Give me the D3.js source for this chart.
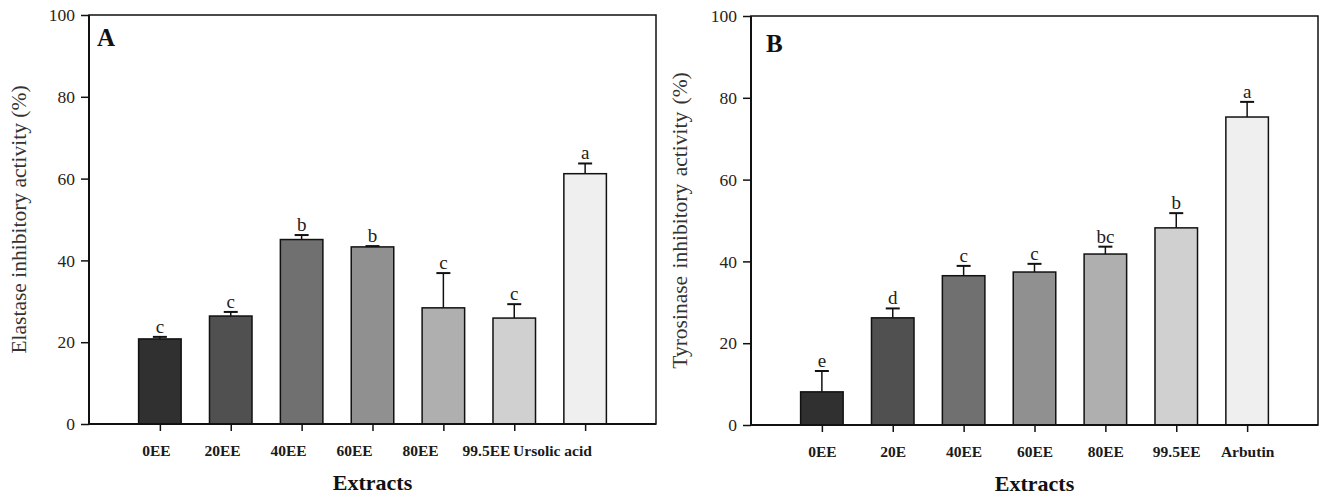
<!DOCTYPE html>
<html>
<head>
<meta charset="utf-8">
<script src="https://cdn.jsdelivr.net/npm/d3@7"></script>
<style>
  body { margin: 0; background: #fff; }
  svg text { font-family: "Liberation Serif", "Times New Roman", serif; }
</style>
</head>
<body>
<div id="chart"></div>
<script>
const width = 1320;
const height = 495;

// Panel A - elastase
const elastaseCats = ["0EE", "20EE", "40EE", "60EE", "80EE", "99.5EE", "Ursolic acid"];
const elastaseVals = [20.8, 26.4, 45.1, 43.3, 28.4, 25.9, 61.2];
const elastaseErr = [0.5, 1.0, 1.1, 0.2, 8.5, 3.4, 2.5];
const elastaseLetters = ["c", "c", "b", "b", "c", "c", "a"];

// Panel B - tyrosinase
const tyrosinaseCats = ["0EE", "20E", "40EE", "60EE", "80EE", "99.5EE", "Arbutin"];
const tyrosinaseVals = [8.1, 26.2, 36.5, 37.4, 41.8, 48.2, 75.3];
const tyrosinaseErr = [5.1, 2.3, 2.4, 2.0, 1.8, 3.6, 3.7];
const tyrosinaseLetters = ["e", "d", "c", "c", "bc", "b", "a"];

const yTicks = [0, 20, 40, 60, 80, 100];
const barColors = ["#303030", "#505050", "#707070", "#909090", "#afafaf", "#d0d0d0", "#efefef"];

const svg = d3.select("#chart")
  .append("svg")
  .attr("width", width)
  .attr("height", height);

function drawPanel(opts) {
  const w = 567, h = 409;
  const g = svg.append("g")
    .attr("transform", `translate(${opts.left}, ${opts.top})`);

  const step = w / 8;
  const x = d3.scalePoint()
    .domain(opts.cats)
    .range([step, w - step]);
  // in panel A the tick labels sit a bit tighter than the ticks
  const xLab = d3.scalePoint()
    .domain(opts.cats)
    .range(opts.labelRange || [step, w - step]);
  const y = d3.scaleLinear()
    .domain([0, 100])
    .range([h, 0]);
  const bw = step * 0.6;

  // frame (top/right thinner)
  g.append("rect")
    .attr("x", 0).attr("y", 0)
    .attr("width", w).attr("height", h)
    .attr("fill", "none")
    .attr("stroke", "#111")
    .attr("stroke-width", 1.5);

  // bars
  g.selectAll(".bar")
    .data(opts.vals)
    .join("rect")
    .attr("class", "bar")
    .attr("x", (d, i) => x(opts.cats[i]) - bw / 2)
    .attr("y", d => y(d))
    .attr("width", bw)
    .attr("height", d => h - y(d))
    .attr("fill", (d, i) => barColors[i])
    .attr("stroke", "#111")
    .attr("stroke-width", 1.5);

  // error bars (upper only)
  const eg = g.selectAll(".err")
    .data(opts.vals)
    .join("g")
    .attr("class", "err");
  eg.append("line")
    .attr("x1", (d, i) => x(opts.cats[i]))
    .attr("x2", (d, i) => x(opts.cats[i]))
    .attr("y1", d => y(d))
    .attr("y2", (d, i) => y(d + opts.err[i]))
    .attr("stroke", "#111")
    .attr("stroke-width", 1.5);
  eg.append("line")
    .attr("x1", (d, i) => x(opts.cats[i]) - 7)
    .attr("x2", (d, i) => x(opts.cats[i]) + 7)
    .attr("y1", (d, i) => y(d + opts.err[i]))
    .attr("y2", (d, i) => y(d + opts.err[i]))
    .attr("stroke", "#111")
    .attr("stroke-width", 2);

  // significance letters
  g.selectAll(".sig")
    .data(opts.letters)
    .join("text")
    .attr("class", "sig")
    .attr("x", (d, i) => x(opts.cats[i]))
    .attr("y", (d, i) => y(opts.vals[i] + opts.err[i]) - 4)
    .attr("text-anchor", "middle")
    .attr("font-size", 19)
    .attr("fill", "#222")
    .text(d => d);

  // axes
  const yAxis = d3.axisLeft(y)
    .tickValues(yTicks)
    .tickSize(8)
    .tickPadding(6)
    .tickSizeOuter(0);
  const ya = g.append("g").call(yAxis);
  ya.select(".domain").remove();
  ya.selectAll("line").attr("stroke", "#111").attr("stroke-width", 1.5);
  ya.selectAll("text")
    .attr("font-size", 17.5)
    .attr("fill", "#2a2218")
    .style("font-family", "'Liberation Serif', serif");

  const xAxis = d3.axisBottom(x)
    .tickSize(7)
    .tickPadding(14)
    .tickSizeOuter(0);
  const xa = g.append("g")
    .attr("transform", `translate(0, ${h})`)
    .call(xAxis);
  xa.select(".domain").remove();
  xa.selectAll("line").attr("stroke", "#111").attr("stroke-width", 1.5);
  xa.selectAll("text")
    .attr("x", d => xLab(d) - x(d))
    .attr("font-size", 15.5)
    .attr("font-weight", "bold")
    .attr("fill", "#1a1a1a")
    .style("font-family", "'Liberation Serif', serif");

  // thick left and bottom axis lines
  g.append("line")
    .attr("x1", 0).attr("x2", 0).attr("y1", 0).attr("y2", h)
    .attr("stroke", "#111").attr("stroke-width", 2);
  g.append("line")
    .attr("x1", 0).attr("x2", w).attr("y1", h).attr("y2", h)
    .attr("stroke", "#111").attr("stroke-width", 2);

  // panel letter
  g.append("text")
    .attr("x", opts.letterX)
    .attr("y", opts.letterY)
    .attr("font-size", 25)
    .attr("font-weight", "bold")
    .attr("fill", "#111")
    .text(opts.panel);

  // axis titles
  g.append("text")
    .attr("text-anchor", "middle")
    .attr("transform", `translate(${opts.ytitleX}, ${h / 2}) rotate(-90)`)
    .attr("font-size", 21.5)
    .attr("fill", "#333")
    .attr("word-spacing", opts.wordSpacing)
    .text(opts.ytitle);
  g.append("text")
    .attr("text-anchor", "middle")
    .attr("x", w / 2)
    .attr("y", h + 66)
    .attr("font-size", 22)
    .attr("font-weight", "bold")
    .attr("fill", "#111")
    .text("Extracts");
}

drawPanel({
  left: 89, top: 15, panel: "A", letterX: 8, letterY: 31,
  cats: elastaseCats, vals: elastaseVals, err: elastaseErr, letters: elastaseLetters,
  labelRange: [67, 463],
  ytitle: "Elastase inhibitory activity (%)", ytitleX: -63, wordSpacing: 0
});

drawPanel({
  left: 751, top: 16, panel: "B", letterX: 15, letterY: 36,
  cats: tyrosinaseCats, vals: tyrosinaseVals, err: tyrosinaseErr, letters: tyrosinaseLetters,
  ytitle: "Tyrosinase inhibitory activity (%)", ytitleX: -64, wordSpacing: 2
});
</script>
</body>
</html>
